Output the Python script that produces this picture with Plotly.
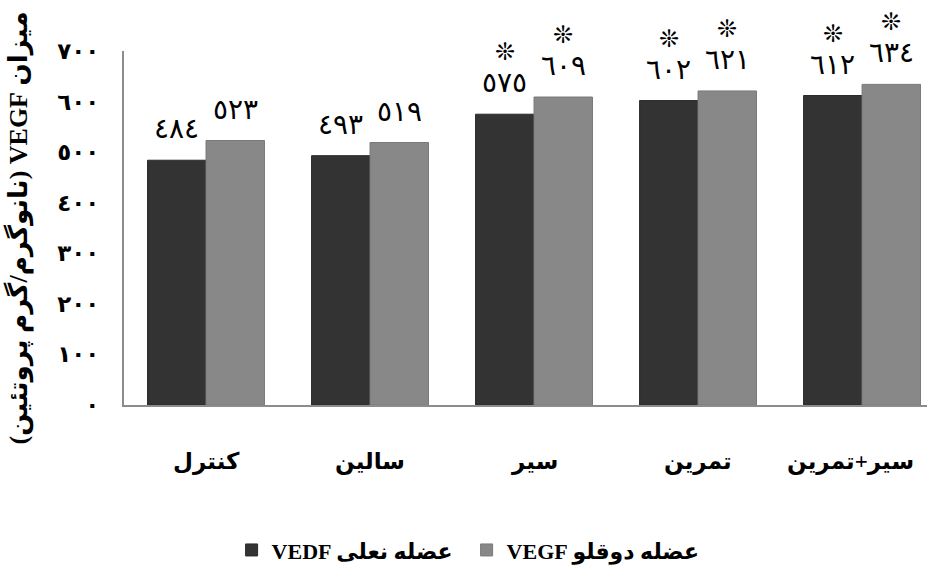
import plotly.graph_objects as go

categories = ["کنترل", "سالین", "سیر", "تمرین", "سیر+تمرین"]
soleus = [484, 493, 575, 602, 612]      # VEDF عضله نعلی
gastro = [523, 519, 609, 621, 634]      # VEGF عضله دوقلو
significant = [False, False, True, True, True]
y_ticks = [0, 100, 200, 300, 400, 500, 600, 700]

AR = str.maketrans("0123456789", "٠١٢٣٤٥٦٧٨٩")
def ar(n):
    return str(n).translate(AR)

FONT = "Liberation Serif, DejaVu Sans, serif"
BARGAP = 0.287
HALF = (1 - BARGAP) / 4   # offset of each bar centre from the category centre

fig = go.Figure()
fig.add_trace(go.Bar(
    x=categories, y=soleus, name="VEDF عضله نعلی",
    marker=dict(color="#333333", line=dict(color="#2a2a2a", width=1)),
))
fig.add_trace(go.Bar(
    x=categories, y=gastro, name="VEGF عضله دوقلو",
    marker=dict(color="#888888", line=dict(color="#7a7a7a", width=1)),
))

# value labels (and significance marks) above bars
for vals, sign in ((soleus, -1), (gastro, 1)):
    for i, (v, s) in enumerate(zip(vals, significant)):
        fig.add_annotation(
            x=i + sign * HALF, y=v, xref="x", yref="y", showarrow=False,
            text=ar(v), xanchor="center", yanchor="bottom", yshift=14,
            font=dict(family=FONT, size=28, color="black"),
        )
        if s:
            fig.add_annotation(
                x=i + sign * HALF, y=v, xref="x", yref="y", showarrow=False,
                text="❊", xanchor="center", yanchor="bottom", yshift=47,
                font=dict(family=FONT, size=24, color="black"),
            )

# category labels on the category axis
for i, c in enumerate(categories):
    fig.add_annotation(
        x=i, y=0, xref="x", yref="y", yshift=-57, showarrow=False,
        text=c, xanchor="center", yanchor="middle",
        xshift=-12 if i == len(categories) - 1 else 0,
        font=dict(family=FONT, size=23, color="black", weight="bold"),
    )

fig.update_layout(
    width=927, height=572,
    paper_bgcolor="white", plot_bgcolor="white",
    margin=dict(l=124, r=0, t=51, b=167, autoexpand=False),
    barmode="group", bargap=BARGAP, bargroupgap=0,
    font=dict(family=FONT, color="black"),
    showlegend=True,
    legend=dict(orientation="h", x=0.134, xref="paper", xanchor="left",
                y=-0.41, yanchor="middle",
                font=dict(family=FONT, size=22, color="black", weight="bold"),
                itemwidth=30, tracegroupgap=0, entrywidth=190,
                entrywidthmode="pixels"),
)
fig.update_xaxes(
    type="category", range=[-0.5, 4.396], automargin=False,
    showline=True, linecolor="#8c8c8c", linewidth=2,
    ticks="", showticklabels=False,
)
fig.update_yaxes(
    range=[0, 700], automargin=False,
    showline=True, linecolor="#8c8c8c", linewidth=2,
    showgrid=False, zeroline=False, ticks="",
    tickvals=y_ticks, ticktext=[ar(v) for v in y_ticks],
    ticklabelstandoff=18,
    tickfont=dict(family=FONT, size=23, color="black", weight="bold"),
    title=dict(text="\u202Bمیزان VEGF (نانوگرم/گرم پروتئین)\u202C",
               font=dict(family=FONT, size=26, color="black", weight="bold"),
               standoff=22),
)

fig.write_html("out.html", config={"displayModeBar": False},
               post_script="document.body.style.margin='0';document.body.style.overflow='hidden';")
